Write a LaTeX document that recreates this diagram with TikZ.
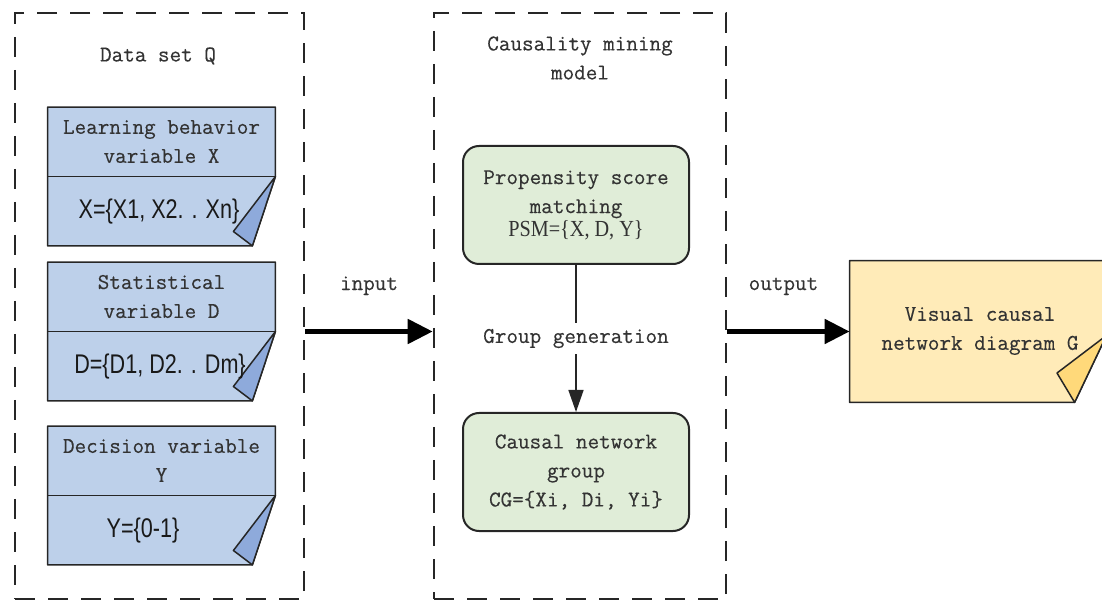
\documentclass[tikz,border=0pt]{standalone}
\usepackage{fontspec}
\setmonofont[FakeBold=0.35]{Latin Modern Mono}
\newfontfamily\setfont[FakeStretch=0.8]{Liberation Sans}
\newfontfamily\psmfont[FakeStretch=0.88]{Liberation Serif}
\usetikzlibrary{arrows.meta,calc}

\definecolor{cardblue}{HTML}{BDD0EA}
\definecolor{foldblue}{HTML}{8EAADB}
\definecolor{boxgreen}{HTML}{E0EDD8}
\definecolor{cardyellow}{HTML}{FFEBB8}
\definecolor{foldyellow}{HTML}{FFD97A}
\definecolor{inkgray}{HTML}{333333}

% folded card: #1 node name, #2 fill, #3 fold colour
\newcommand{\foldedcard}[3]{%
  \path[cardline, fill=#2] (#1.north west) -- (#1.north east) -- (#1.east)
    -- ($(#1.south east)+(-23,0)$) -- (#1.south west) -- cycle;
  \path[cardline, fill=#3] (#1.east) -- ($(#1.east)+(-42,55)$)
    -- ($(#1.south east)+(-23,0)$) -- cycle;
  \draw[cardline] (#1.west) -- (#1.east);
}

\begin{document}
\begin{tikzpicture}[x=0.5pt,y=-0.5pt,
  txt/.style={font=\fontsize{11.25}{14.5}\selectfont\ttfamily, text=inkgray,
    align=center, inner sep=0pt},
  settext/.style={font=\fontsize{13.5}{15}\selectfont\setfont, text=black!90,
    inner sep=0pt},
  frame/.style={draw=black!85, line width=1.3pt, dash pattern=on 10pt off 6.5pt},
  card/.style={minimum width=113.5pt, minimum height=69pt, inner sep=0pt},
  cardline/.style={draw=black!85, line width=0.75pt, line join=round},
  greenbox/.style={draw=black!85, fill=boxgreen, line width=1pt,
    rounded corners=8pt, minimum width=113pt, minimum height=59pt,
    inner sep=0pt, txt},
  bigarrow/.style={draw=black, line width=2.5pt,
    -{Triangle[length=12.5pt,width=12pt]}},
  thinarrow/.style={draw=black!85, line width=0.75pt,
    -{Triangle[length=11pt,width=7.5pt]}},
]
\useasboundingbox (0,0) rectangle (1102,603);
\clip (0,0) rectangle (1102,603);

% dashed frames
\node[frame, minimum width=144.5pt, minimum height=293pt] (dataset) at (159.5,306) {};
\node[frame, minimum width=146pt, minimum height=293pt] (model) at (580,306) {};

\node[txt] (dstitle) at (158,56) {Data set Q};
\node[txt] (mtitle) at (580,58) {Causality mining\\model};

% variable cards
\node[card] (cardX) at (161.5,176.5) {};
\node[card] (cardD) at (161.5,331.5) {};
\node[card] (cardY) at (161.5,495.5) {};
\foldedcard{cardX}{cardblue}{foldblue}
\foldedcard{cardD}{cardblue}{foldblue}
\foldedcard{cardY}{cardblue}{foldblue}

\node[txt] (titleX) at ($(cardX.center)+(0,-35)$) {Learning behavior\\variable X};
\node[settext] (setX) at ($(cardX.center)+(-2.5,35)$) {X=\{X1, X2. . Xn\}};
\node[txt] (titleD) at ($(cardD.center)+(0,-35)$) {Statistical\\variable D};
\node[settext] (setD) at ($(cardD.center)+(-1.5,35)$) {D=\{D1, D2. . Dm\}};
\node[txt] (titleY) at ($(cardY.center)+(0,-35)$) {Decision variable\\Y};
\node[settext] (setY) at ($(cardY.center)+(-18.5,35)$) {Y=\{0-1\}};

% mining model
\node[greenbox] (psm) at (576,205)
  {Propensity score\\matching\\[-3pt]{\psmfont\fontsize{11.5}{14.5}\selectfont PSM=\{X, D, Y\}}};
\node[greenbox] (cg) at (576,472) {Causal network\\group\\CG=\{Xi, Di, Yi\}};
\draw[thinarrow] (psm.south) -- (cg.north)
  node[midway, txt, fill=white, inner ysep=3pt] (gen) {Group generation};

% output card
\node[minimum width=128pt, minimum height=70.5pt, inner sep=0pt, txt] (visual)
  at (978,331.5) {};
\path[cardline, fill=cardyellow] (visual.north west) -- (visual.north east)
  -- ($(visual.east)+(0,4)$) -- ($(visual.south west)+(225,0)$)
  -- (visual.south west) -- cycle;
\path[cardline, fill=foldyellow] ($(visual.east)+(0,4)$) -- (1057,373)
  -- ($(visual.south west)+(225,0)$) -- cycle;
\node[txt] (vtext) at (980,331) {Visual causal\\network diagram G};

% flow arrows
\draw[bigarrow] (dataset.east |- visual.west) -- (model.west |- visual.west)
  node[midway, txt, above=17pt] (inlbl) {input};
\draw[bigarrow] (model.east |- visual.west) -- (visual.west)
  node[midway, txt, above=17pt, xshift=-2.5pt] (outlbl) {output};
\end{tikzpicture}
\end{document}
